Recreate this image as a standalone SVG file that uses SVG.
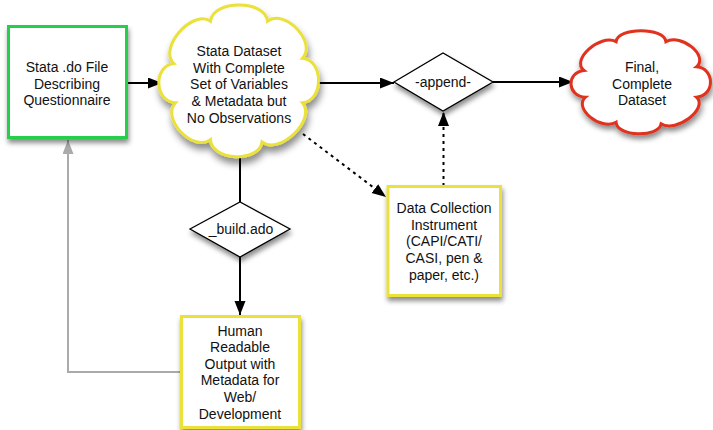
<svg xmlns="http://www.w3.org/2000/svg" width="713" height="430" viewBox="0 0 713 430">
<style>
text{font-family:"Liberation Sans",Arial,Helvetica,sans-serif;font-size:14px;fill:#111;text-anchor:middle}
.box{fill:#fff;stroke-width:3}
.cloud{fill:#fff;stroke-width:3}
.dia{fill:#fff;stroke:#000;stroke-width:1.3}
.c{fill:none;stroke:#000;stroke-width:2}
.dot{stroke-dasharray:3 4}
.gray{stroke:#aaa}
</style>
<defs>
<filter id="sh" x="-20%" y="-20%" width="150%" height="150%">
<feDropShadow dx="1" dy="4" stdDeviation="2.5" flood-color="#000" flood-opacity="0.45"/>
</filter>
<marker id="ah" markerUnits="userSpaceOnUse" markerWidth="15" markerHeight="12" refX="14" refY="5.5" orient="auto">
<path d="M0,0 L14,5.5 L0,11 z" fill="#000"/>
</marker>
<marker id="ahg" markerUnits="userSpaceOnUse" markerWidth="15" markerHeight="12" refX="14" refY="5.5" orient="auto">
<path d="M0,0 L14,5.5 L0,11 z" fill="#aaa"/>
</marker>
</defs>

<g id="connectors">
<line class="c" x1="127.5" y1="83" x2="162" y2="83" marker-end="url(#ah)"/>
<line class="c" x1="318" y1="83" x2="394" y2="83" marker-end="url(#ah)"/>
<line class="c" x1="493" y1="82" x2="573" y2="82" marker-end="url(#ah)"/>
<line class="c" x1="240" y1="157" x2="240" y2="202"/>
<line class="c" x1="240" y1="257" x2="240" y2="315" marker-end="url(#ah)"/>
<line class="c dot" x1="303" y1="134" x2="386" y2="197" marker-end="url(#ah)"/>
<line class="c dot" x1="443.5" y1="186" x2="443.5" y2="112" marker-end="url(#ah)"/>
<polyline class="c gray" points="181,372 68,372 68,140" marker-end="url(#ahg)"/>
</g>

<g id="node-do-file">
<rect class="box" x="8.5" y="26.5" width="118" height="111" stroke="#26cf4a" filter="url(#sh)"/>
<text x="67" y="72">Stata .do File</text>
<text x="67" y="88.5">Describing</text>
<text x="67" y="105">Questionnaire</text>
</g>

<g id="node-stata-dataset">
<path class="cloud" d="M7.5,38.6 C-2.7,28.2 19.4,1.9 31.4,10.1 C32.8,-4.4 67.2,-4.4 68.6,10.1 C80,1.5 100.9,24.3 91.4,35 C105.3,36.2 105.3,63.8 91.4,65 C100.6,76.3 76.3,100.6 65,91.4 C63.1,105.5 32.2,104.2 31.4,89.9 C20,98.5 -0.9,75.7 8.6,65 C-5.1,64.5 -6.2,40.4 7.5,38.6 Z" transform="translate(162.3 6.2) scale(1.534 1.485)" vector-effect="non-scaling-stroke" stroke="#ebe13a" filter="url(#sh)"/>
<text x="239" y="56">Stata Dataset</text>
<text x="239" y="72.7">With Complete</text>
<text x="239" y="89.3">Set of Variables</text>
<text x="239" y="106">&amp; Metadata but</text>
<text x="239" y="122.7">No Observations</text>
</g>

<g id="node-append">
<polygon class="dia" points="394,82 443,53 493,82 443,111" filter="url(#sh)"/>
<text x="443" y="87">-append-</text>
</g>

<g id="node-final">
<path class="cloud" d="M7.5,38.6 C-2.7,28.2 19.4,1.9 31.4,10.1 C32.8,-4.4 67.2,-4.4 68.6,10.1 C80,1.5 100.9,24.3 91.4,35 C105.3,36.2 105.3,63.8 91.4,65 C100.6,76.3 76.3,100.6 65,91.4 C63.1,105.5 32.2,104.2 31.4,89.9 C20,98.5 -0.9,75.7 8.6,65 C-5.1,64.5 -6.2,40.4 7.5,38.6 Z" transform="translate(574 31.5) scale(1.34 1.01)" vector-effect="non-scaling-stroke" stroke="#e0301e" filter="url(#sh)"/>
<text x="642" y="72">Final,</text>
<text x="642" y="88.5">Complete</text>
<text x="642" y="105">Dataset</text>
</g>

<g id="node-build">
<polygon class="dia" points="190,229 240,202 290,229 240,257" filter="url(#sh)"/>
<text x="241" y="234">_build.ado</text>
</g>

<g id="node-data-collection">
<rect class="box" x="388" y="186.5" width="112.5" height="109" stroke="#ebe13a" filter="url(#sh)"/>
<text x="444" y="213">Data Collection</text>
<text x="444" y="229.7">Instrument</text>
<text x="444" y="246.3">(CAPI/CATI/</text>
<text x="444" y="263">CASI, pen &amp;</text>
<text x="444" y="279.7">paper, etc.)</text>
</g>

<g id="node-human-output">
<rect class="box" x="181.5" y="316.5" width="118" height="111" stroke="#ebe13a" filter="url(#sh)"/>
<text x="240" y="335.5">Human</text>
<text x="240" y="352">Readable</text>
<text x="240" y="368.7">Output with</text>
<text x="240" y="385.3">Metadata for</text>
<text x="240" y="402">Web/</text>
<text x="240" y="418.7">Development</text>
</g>
</svg>
